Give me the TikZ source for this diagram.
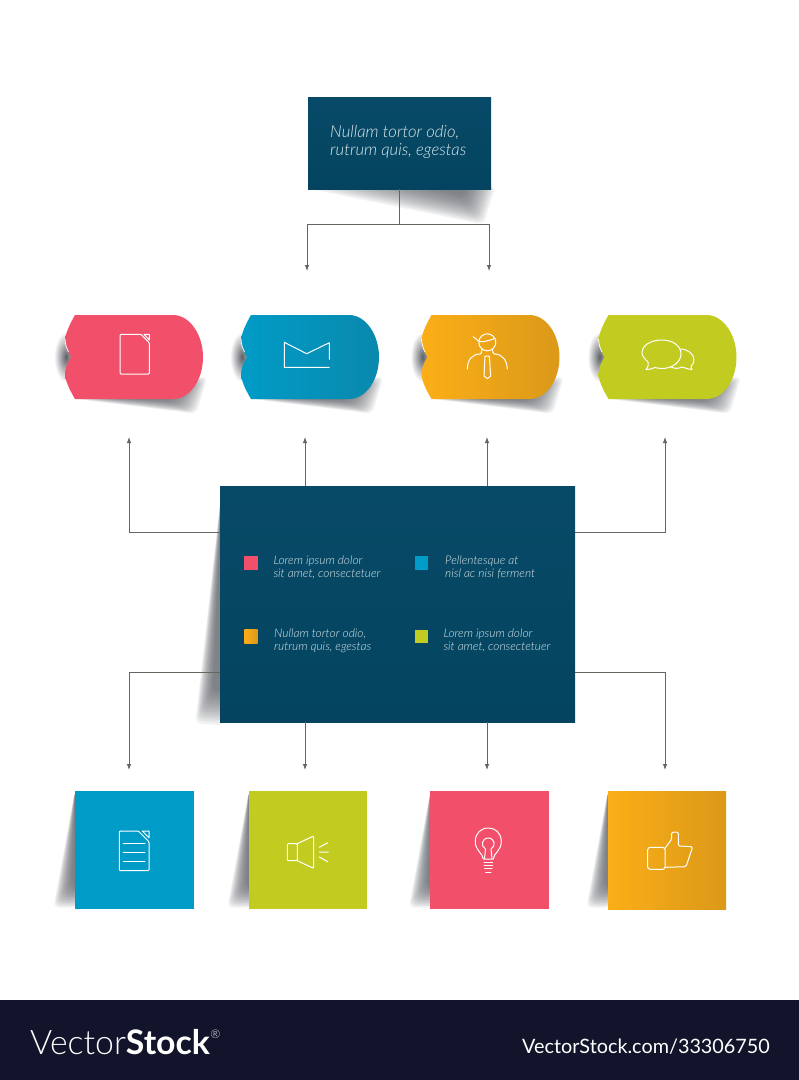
\documentclass[tikz,border=0pt]{standalone}
\usepackage{fontspec}
\usetikzlibrary{arrows.meta,calc}
\setmainfont{Lato}
\newfontfamily\lightfont{Lato Light}
\newfontfamily\boldfont{Lato Bold}
\newfontfamily\notefont{Lato Light Italic}
\definecolor{petrolA}{HTML}{074A67}
\definecolor{petrolB}{HTML}{044460}
\definecolor{roseC}{HTML}{F2506A}
\definecolor{blueA}{HTML}{009CC7}
\definecolor{blueB}{HTML}{0A88AD}
\definecolor{amberA}{HTML}{FBAE17}
\definecolor{amberB}{HTML}{DB9919}
\definecolor{limeC}{HTML}{C2CB20}
\definecolor{footC}{HTML}{11142A}
\definecolor{linkC}{HTML}{66665E}
\definecolor{shadowC}{HTML}{4A4E55}
\definecolor{noteC}{HTML}{DCE8EC}
\tikzset{
    link/.style={-{Latex[length=6pt,width=4.5pt]}, draw=linkC, line width=.85pt},
    icon/.style={draw=white, line width=1pt, line join=round, line cap=round},
    card/.style={minimum width=118.5pt, minimum height=118.5pt, inner sep=0pt},
    chip/.style={minimum size=13.4pt, inner sep=0pt},
    note/.style={anchor=west, inner sep=0pt, align=left, text=noteC, font=\notefont\fontsize{11.9pt}{13.4pt}\selectfont},
}
\newcommand{\fanshadow}[6]{
    \foreach \t in {0,0.07,...,1}{
        \fill[shadowC, opacity=.08, rounded corners=6pt] ($#1!\t!#2$) -- ($#3!\t!#4$) -- ($#5!\t!#6$) -- cycle;
    }
}
\newcommand{\cardshadow}[1]{
    \begin{scope}[shift={(#1,0)}]
        \fanshadow{(0,791)}{(0,791)}{(-3,885)}{(-22,908)}{(3,888)}{(3,908)}
    \end{scope}
}
\newcommand{\tabcard}[3]{
    \begin{scope}[shift={(#1,0)}]
        \fanshadow{(125,399)}{(75,399)}{(170,400)}{(197,414)}{(185,390)}{(208,376)}
        \shade[inner color=shadowC!90, outer color=white] (66,357) ellipse (12pt and 25pt);
        \shade[left color=#2, right color=#3] (75,315) -- (173,315)
            .. controls (190,315) and (203,335) .. (203,357)
            .. controls (203,380) and (190,399) .. (173,399)
            -- (75,399) .. controls (71,392) and (67,385) .. (65,376)
            .. controls (65,369) and (67,363) .. (71,357)
            .. controls (67,351) and (65,345) .. (65,338)
            .. controls (67,330) and (71,322) .. (75,315) -- cycle;
        \draw[white, line width=.7pt] (65,339) .. controls (65.3,345) and (67,349) .. (68.5,352);
    \end{scope}
}
\begin{document}
\begin{tikzpicture}[x=1pt, y=-1pt]
    \useasboundingbox (0,0) rectangle (799,1080);

    % shadows
    \fanshadow{(440,189)}{(308,189)}{(462,196)}{(484,225)}{(468,186)}{(496,186)}
    \fanshadow{(222,486)}{(222,486)}{(213,690)}{(195,724)}{(224,690)}{(224,726)}
    \cardshadow{75}
    \cardshadow{249}
    \cardshadow{430.5}
    \cardshadow{608}

    % top and centre boxes
    \node[minimum width=183pt, minimum height=92pt, inner sep=0pt, top color=petrolA, bottom color=petrolB] (top) at (399.5,143) {};
    \node[minimum width=355pt, minimum height=236pt, inner sep=0pt, top color=petrolA, bottom color=petrolB] (main) at (397.5,604) {};
    \node[anchor=west, inner sep=0pt, align=left, text=noteC, font=\notefont\fontsize{16.7pt}{18pt}\selectfont] (toptext) at (330,141.5) {Nullam tortor odio,\\rutrum quis, egestas};

    % tabs
    \tabcard{0}{roseC}{roseC}
    \tabcard{176}{blueA}{blueB}
    \tabcard{356.5}{amberA}{amberB}
    \tabcard{533.5}{limeC}{limeC}

    % cards
    \node[card, fill=blueA] (cardA) at (134.5,850) {};
    \node[card, fill=limeC] (cardB) at (308,850) {};
    \node[card, fill=roseC] (cardC) at (489.5,850) {};
    \node[card, minimum width=118pt, minimum height=118pt, left color=amberA, right color=amberB] (cardD) at (667,850) {};

    % connector ends
    \coordinate (endL) at (307,271);
    \coordinate (endR) at (489,271);
    \coordinate (upA) at (129,437);
    \coordinate (upB) at (305,437);
    \coordinate (upC) at (487,437);
    \coordinate (upD) at (665,437);
    \coordinate (downA) at (129,770);
    \coordinate (downB) at (305,770);
    \coordinate (downC) at (487,770);
    \coordinate (downD) at (665,770);
    \coordinate (tapA) at (220,532.3);
    \coordinate (tapB) at (575,532.3);
    \coordinate (tapC) at (220,672.7);
    \coordinate (tapD) at (575,672.7);

    \draw[link] (top.south) -- ++(0,35) -| (endL);
    \draw[link] (top.south) -- ++(0,35) -| (endR);
    \draw[link] (tapA) -| (upA);
    \draw[link] (main.north -| upB) -- (upB);
    \draw[link] (main.north -| upC) -- (upC);
    \draw[link] (tapB) -| (upD);
    \draw[link] (tapC) -| (downA);
    \draw[link] (main.south -| downB) -- (downB);
    \draw[link] (main.south -| downC) -- (downC);
    \draw[link] (tapD) -| (downD);

    % legend
    \node[chip, fill=roseC] (chipA) at (251,563) {};
    \node[chip, fill=blueA] (chipB) at (421.3,563) {};
    \node[chip, left color=amberA, right color=amberB] (chipC) at (251,636.3) {};
    \node[chip, fill=limeC] (chipD) at (421.3,636.3) {};
    \node[note] (noteA) at (273.3,567.5) {Lorem ipsum dolor\\sit amet, consectetuer};
    \node[note] (noteB) at (445,567.5) {Pellentesque at\\nisl ac nisi ferment};
    \node[note] (noteC) at (274,640.5) {Nullam tortor odio,\\rutrum quis, egestas};
    \node[note] (noteD) at (443.3,640.5) {Lorem ipsum dolor\\sit amet, consectetuer};

    % tab icons
    \draw[icon, rounded corners=1pt] (141,334.3) -- (120,334.3) -- (120,374) -- (149.3,374) -- (149.3,342.7) -- cycle;
    \draw[icon] (144,334.3) -- (149.3,334.3) -- (149.3,340) -- cycle;

    \draw[icon] (329.3,359.3) -- (329.3,342.7) -- (306.7,353.7) -- (284.3,342.3) -- (284.3,367.3) -- (329.3,367.3);

    \draw[icon] (487.3,342.3) circle (8.5);
    \draw[icon] (473.3,336.7) -- (479.3,341.7) .. controls (485,342) and (491,340) .. (495,338.3);
    \draw[icon] (467.3,369) .. controls (467.5,360) and (472,354) .. (480,354) .. controls (481.5,354) and (482,352) .. (482,349);
    \draw[icon] (507.3,369) .. controls (507,360) and (502,354) .. (494.5,354) .. controls (493,354) and (492.5,352) .. (492.5,349);
    \draw[icon] (485,356) -- (489.3,356) -- (490.7,376) -- (487.3,378.7) -- (484,376) -- cycle;

    \draw[icon] (648,362) .. controls (645,359) and (642,356) .. (642,353) .. controls (642,345) and (651,340) .. (662,340)
        .. controls (673,340) and (681,346) .. (681,354) .. controls (681,362) and (672,368.5) .. (662,368.5)
        .. controls (659,368.5) and (657,368) .. (655,367.5) .. controls (652,369) and (649,369.5) .. (646,369.5)
        .. controls (648,367) and (649,365) .. (648,362);
    \draw[icon] (680,349) .. controls (688,349) and (694,354) .. (694,360) .. controls (694,363) and (692.5,365) .. (691,366)
        -- (692,369.5) .. controls (688,369) and (685,368) .. (682,367) .. controls (678,369) and (674,368.5) .. (671,367);

    % card icons
    \draw[icon, rounded corners=1pt] (138.3,831) -- (119.3,831) -- (119.3,870.7) -- (149,870.7) -- (149,841.7) -- cycle;
    \draw[icon] (142.3,831) -- (149,831) -- (149,837.7) -- cycle;
    \draw[icon] (123.3,843) -- (145,843) (123.3,852.3) -- (145,852.3) (123.3,861.7) -- (145,861.7);

    \draw[icon, rounded corners=1pt] (297.3,843.7) -- (287.3,843.7) -- (287.3,860.7) -- (297.3,860.7) -- cycle;
    \draw[icon, rounded corners=1pt] (297.3,843.7) -- (313.5,836) -- (313.5,868.3) -- (297.3,860.7);
    \draw[icon] (319.3,847.3) -- (327.7,842.7) (319.3,852) -- (328.3,852) (319.3,857) -- (327.7,861.7);

    \draw[icon] (483.3,859) .. controls (483,853) and (475,851) .. (475.3,841) .. controls (475.5,833) and (481,828) .. (488.3,828)
        .. controls (495.5,828) and (501,833) .. (501.3,841) .. controls (501.5,851) and (493.5,853) .. (493.3,859) -- cycle;
    \draw[icon] (484.5,858.5) -- (485.5,849) .. controls (480.5,846.5) and (481.5,838) .. (488.3,838) .. controls (495,838) and (496,846.5) .. (491,849) -- (492,858.5);
    \draw[icon] (484,862.5) -- (492.7,862.5) (484,865.5) -- (492.7,865.5) (484.5,868.5) -- (492,868.5) (485.5,872) -- (491,872);

    \draw[icon, rounded corners=2.5pt] (647.7,847.3) rectangle (665,869.3);
    \draw[icon, rounded corners=1.5pt] (665,848.3) -- (671.7,839.3) -- (671.7,835) .. controls (671.7,831.5) and (678.3,831.5) .. (678.3,835)
        -- (678.3,846) -- (692.7,846.7) -- (686,866.7) -- (665,867.3);

    % footer
    \fill[footC] (0,1000) rectangle (799,1080);
    \node[anchor=base west, inner sep=0pt, text=white, font=\fontsize{33.8pt}{36pt}\selectfont] (logo) at (30,1054) {{\lightfont Vector}{\boldfont Stock}};
    \node[anchor=south west, inner sep=0pt, text=white, font=\lightfont\fontsize{12pt}{12pt}\selectfont, yshift=-10pt] (reg) at (logo.north east) {®};
    \node[anchor=base east, inner sep=0pt, text=white, font=\fontsize{19.8pt}{20pt}\selectfont] (stock) at (770,1053) {VectorStock.com/33306750};
\end{tikzpicture}
\end{document}
